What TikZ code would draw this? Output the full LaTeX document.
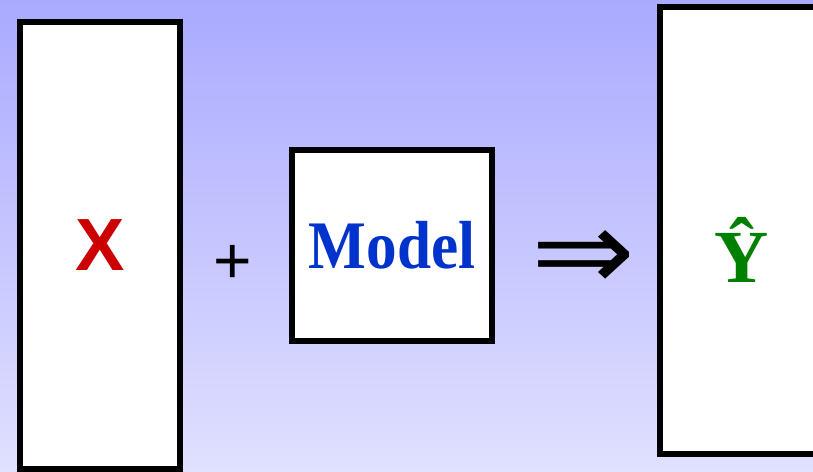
\documentclass[tikz,border=0pt]{standalone}
\usepackage{fontspec}
\usepackage{graphicx}
\usepackage{xcolor}
\setmainfont{Liberation Serif}
\setsansfont{Liberation Sans}
\newfontfamily\symfont{DejaVu Sans}
\usetikzlibrary{positioning}

\definecolor{bgtop}{RGB}{170,170,255}
\definecolor{bgbot}{RGB}{224,224,255}
\definecolor{xred}{RGB}{204,0,0}
\definecolor{modelblue}{RGB}{0,51,204}
\definecolor{ygreen}{RGB}{0,128,0}

\begin{document}
\begin{tikzpicture}[x=1pt, y=-1pt,
    box/.style={draw=black, line width=6pt, fill=white, inner sep=0pt}]
    % Nền chuyển màu
    \shade[top color=bgtop, bottom color=bgbot] (0,0) rectangle (813,471);
    \useasboundingbox (0,0) rectangle (813,471);

    % Các khối
    \node[box, minimum width=160pt, minimum height=447pt,
          font=\sffamily\bfseries\fontsize{74}{74}\selectfont, text=xred]
          (input) at (100,245.5) {X};
    \node[box, minimum width=200pt, minimum height=191pt,
          font=\bfseries\fontsize{68}{68}\selectfont, text=modelblue]
          (model) at (392,245.5) {\scalebox{0.9}[1]{Model}};
    \node[box, minimum width=200pt, minimum height=447pt]
          (output) at (760,230) {};

    % Ký hiệu
    \node[font=\sffamily\fontsize{66}{66}\selectfont] (plus) at (233,264) {+};
    \node[inner sep=0pt] (arrow) at (583.5,260) {\resizebox{104pt}{60pt}{\symfont ⇒}};
    \node[anchor=base, inner sep=0pt, text=ygreen,
          font=\bfseries\fontsize{75}{75}\selectfont] (yhat) at (741.5,282) {\^{Y}};
\end{tikzpicture}
\end{document}
